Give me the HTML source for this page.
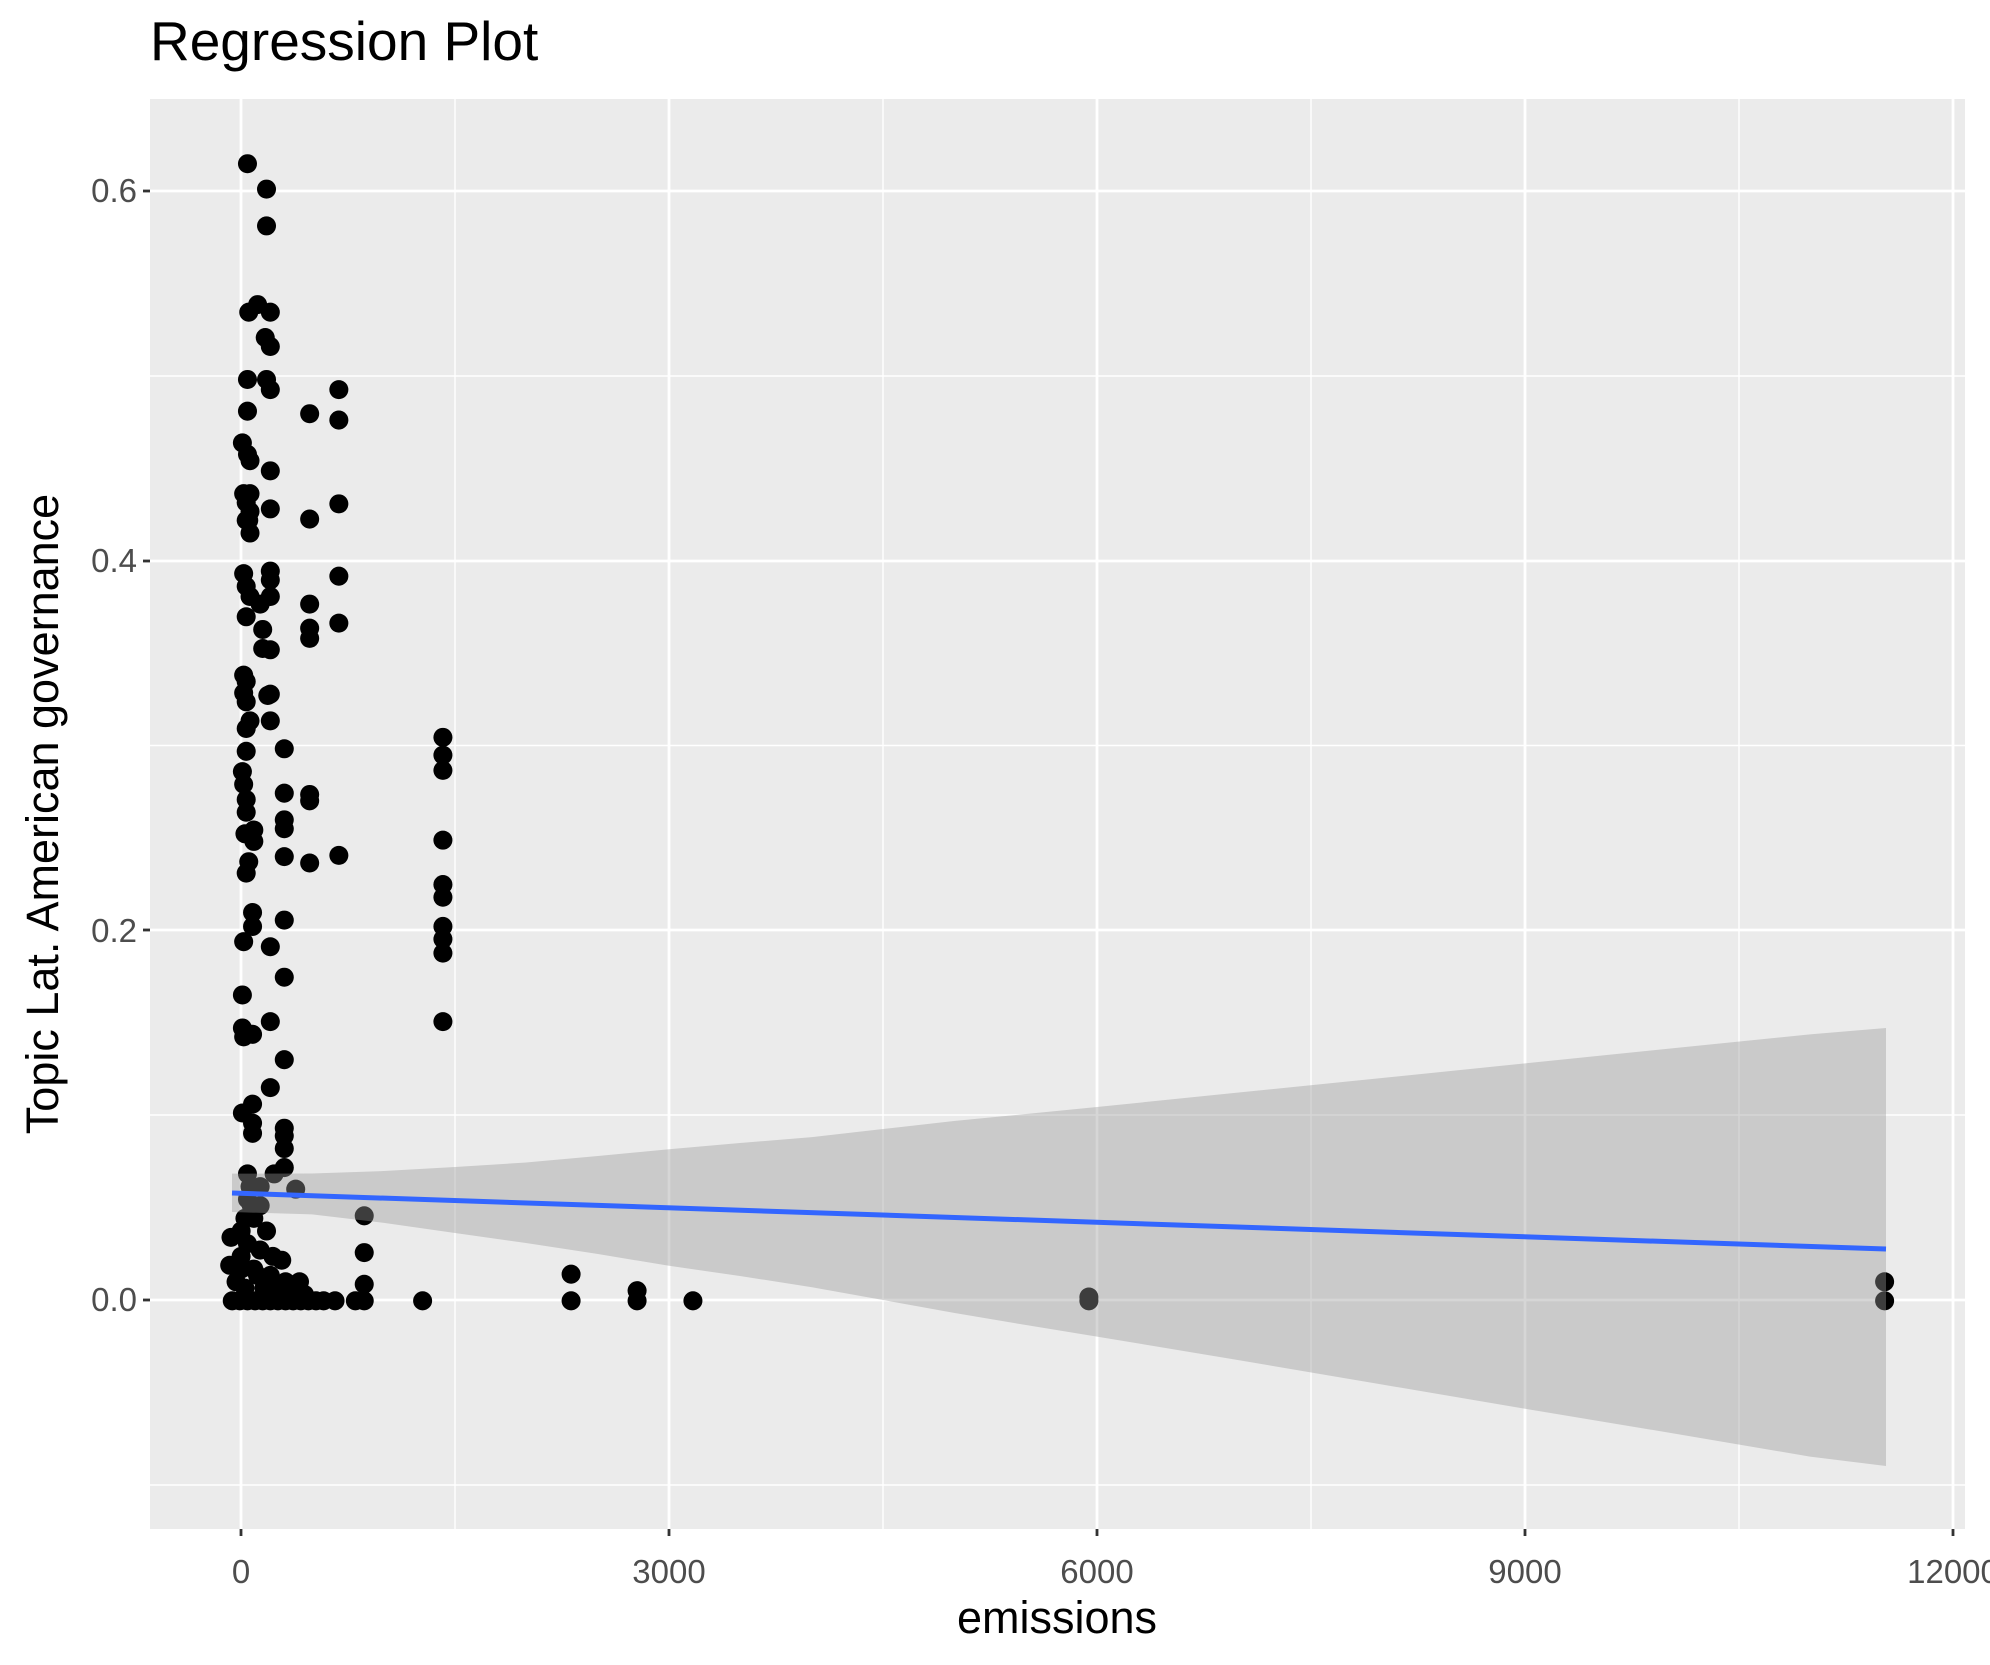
<!DOCTYPE html>
<html><head><meta charset="utf-8"><style>
html,body{margin:0;padding:0;background:#fff}
svg{display:block}
text{font-family:"Liberation Sans",sans-serif}
</style></head><body>
<svg width="1990" height="1665" viewBox="0 0 1990 1665" xmlns="http://www.w3.org/2000/svg">
<rect x="150" y="99" width="1815" height="1430" fill="#EBEBEB"/>
<g stroke="#fff" stroke-width="1.4">
<line x1="455" y1="99" x2="455" y2="1529"/><line x1="883" y1="99" x2="883" y2="1529"/><line x1="1311" y1="99" x2="1311" y2="1529"/><line x1="1739" y1="99" x2="1739" y2="1529"/>
<line x1="150" y1="1485" x2="1965" y2="1485"/><line x1="150" y1="1115" x2="1965" y2="1115"/><line x1="150" y1="745.5" x2="1965" y2="745.5"/><line x1="150" y1="376" x2="1965" y2="376"/>
</g>
<g stroke="#fff" stroke-width="2.8">
<line x1="241" y1="99" x2="241" y2="1529"/><line x1="669" y1="99" x2="669" y2="1529"/><line x1="1097" y1="99" x2="1097" y2="1529"/><line x1="1525" y1="99" x2="1525" y2="1529"/><line x1="1953" y1="99" x2="1953" y2="1529"/>
<line x1="150" y1="1300" x2="1965" y2="1300"/><line x1="150" y1="930" x2="1965" y2="930"/><line x1="150" y1="561" x2="1965" y2="561"/><line x1="150" y1="191" x2="1965" y2="191"/>
</g>
<g transform="scale(1.2691)" fill="#000">
<g id="pts">
<circle cx="195" cy="129" r="7.5"/><circle cx="210" cy="149" r="7.5"/><circle cx="210" cy="178" r="7.5"/><circle cx="203" cy="240" r="7.5"/><circle cx="213" cy="246" r="7.5"/><circle cx="196" cy="246" r="7.5"/><circle cx="209" cy="266" r="7.5"/><circle cx="213" cy="273" r="7.5"/><circle cx="195" cy="299" r="7.5"/><circle cx="210" cy="299" r="7.5"/><circle cx="213" cy="307" r="7.5"/><circle cx="267" cy="307" r="7.5"/><circle cx="195" cy="324" r="7.5"/><circle cx="244" cy="326" r="7.5"/><circle cx="267" cy="331" r="7.5"/><circle cx="191" cy="349" r="7.5"/><circle cx="195" cy="358" r="7.5"/><circle cx="197" cy="363" r="7.5"/><circle cx="213" cy="371" r="7.5"/><circle cx="267" cy="397" r="7.5"/><circle cx="192" cy="389" r="7.5"/><circle cx="197" cy="389" r="7.5"/><circle cx="194" cy="396" r="7.5"/><circle cx="197" cy="403" r="7.5"/><circle cx="213" cy="401" r="7.5"/><circle cx="196" cy="410" r="7.5"/><circle cx="194" cy="410" r="7.5"/><circle cx="244" cy="409" r="7.5"/><circle cx="197" cy="420" r="7.5"/><circle cx="192" cy="452" r="7.5"/><circle cx="213" cy="450" r="7.5"/><circle cx="213" cy="457" r="7.5"/><circle cx="267" cy="454" r="7.5"/><circle cx="194" cy="462" r="7.5"/><circle cx="197" cy="470" r="7.5"/><circle cx="213" cy="470" r="7.5"/><circle cx="205" cy="476" r="7.5"/><circle cx="244" cy="476" r="7.5"/><circle cx="194" cy="486" r="7.5"/><circle cx="207" cy="496" r="7.5"/><circle cx="244" cy="495" r="7.5"/><circle cx="244" cy="503" r="7.5"/><circle cx="267" cy="491" r="7.5"/><circle cx="207" cy="511" r="7.5"/><circle cx="213" cy="512" r="7.5"/><circle cx="192" cy="532" r="7.5"/><circle cx="194" cy="537" r="7.5"/><circle cx="192" cy="546" r="7.5"/><circle cx="194" cy="553" r="7.5"/><circle cx="211" cy="548" r="7.5"/><circle cx="213" cy="547" r="7.5"/><circle cx="213" cy="568" r="7.5"/><circle cx="197" cy="568" r="7.5"/><circle cx="194" cy="574" r="7.5"/><circle cx="194" cy="592" r="7.5"/><circle cx="224" cy="590" r="7.5"/><circle cx="349" cy="581" r="7.5"/><circle cx="349" cy="595" r="7.5"/><circle cx="349" cy="607" r="7.5"/><circle cx="191" cy="608" r="7.5"/><circle cx="192" cy="618" r="7.5"/><circle cx="194" cy="630" r="7.5"/><circle cx="244" cy="626" r="7.5"/><circle cx="244" cy="631" r="7.5"/><circle cx="224" cy="625" r="7.5"/><circle cx="194" cy="640" r="7.5"/><circle cx="224" cy="646" r="7.5"/><circle cx="224" cy="653" r="7.5"/><circle cx="200" cy="654" r="7.5"/><circle cx="193" cy="657" r="7.5"/><circle cx="200" cy="663" r="7.5"/><circle cx="349" cy="662" r="7.5"/><circle cx="224" cy="675" r="7.5"/><circle cx="267" cy="674" r="7.5"/><circle cx="196" cy="679" r="7.5"/><circle cx="244" cy="680" r="7.5"/><circle cx="194" cy="688" r="7.5"/><circle cx="199" cy="719" r="7.5"/><circle cx="199" cy="730" r="7.5"/><circle cx="224" cy="725" r="7.5"/><circle cx="349" cy="697" r="7.5"/><circle cx="349" cy="707" r="7.5"/><circle cx="349" cy="730" r="7.5"/><circle cx="349" cy="740" r="7.5"/><circle cx="349" cy="751" r="7.5"/><circle cx="192" cy="742" r="7.5"/><circle cx="213" cy="746" r="7.5"/><circle cx="224" cy="770" r="7.5"/><circle cx="191" cy="784" r="7.5"/><circle cx="213" cy="805" r="7.5"/><circle cx="349" cy="805" r="7.5"/><circle cx="191" cy="810" r="7.5"/><circle cx="192" cy="817" r="7.5"/><circle cx="199" cy="815" r="7.5"/><circle cx="224" cy="835" r="7.5"/><circle cx="213" cy="857" r="7.5"/><circle cx="191" cy="877" r="7.5"/><circle cx="199" cy="870" r="7.5"/><circle cx="199" cy="885" r="7.5"/><circle cx="199" cy="893" r="7.5"/><circle cx="224" cy="889" r="7.5"/><circle cx="224" cy="895" r="7.5"/><circle cx="224" cy="905" r="7.5"/><circle cx="224" cy="920" r="7.5"/><circle cx="216" cy="925" r="7.5"/><circle cx="233" cy="937" r="7.5"/><circle cx="195" cy="925" r="7.5"/>
<circle cx="287" cy="958" r="7.5"/><circle cx="287" cy="987" r="7.5"/><circle cx="287" cy="1012" r="7.5"/><circle cx="287" cy="1025" r="7.5"/><circle cx="280" cy="1025" r="7.5"/><circle cx="264" cy="1025" r="7.5"/><circle cx="333" cy="1025" r="7.5"/><circle cx="450" cy="1004" r="7.5"/><circle cx="450" cy="1025" r="7.5"/><circle cx="502" cy="1017" r="7.5"/><circle cx="502" cy="1025" r="7.5"/><circle cx="546" cy="1025" r="7.5"/><circle cx="858" cy="1022" r="7.5"/><circle cx="858" cy="1025" r="7.5"/><circle cx="1485" cy="1010" r="7.5"/><circle cx="1485" cy="1025" r="7.5"/>
<circle cx="183" cy="1025" r="7.5"/><circle cx="189" cy="1025" r="7.5"/><circle cx="195" cy="1025" r="7.5"/><circle cx="201" cy="1025" r="7.5"/><circle cx="207" cy="1025" r="7.5"/><circle cx="213" cy="1025" r="7.5"/><circle cx="219" cy="1025" r="7.5"/><circle cx="225" cy="1025" r="7.5"/><circle cx="231" cy="1025" r="7.5"/><circle cx="237" cy="1025" r="7.5"/><circle cx="243" cy="1025" r="7.5"/><circle cx="249" cy="1025" r="7.5"/><circle cx="255" cy="1025" r="7.5"/>
<circle cx="182" cy="975" r="7.5"/><circle cx="181" cy="997" r="7.5"/><circle cx="186" cy="1010" r="7.5"/><circle cx="190" cy="990" r="7.5"/><circle cx="195" cy="980" r="7.5"/><circle cx="200" cy="960" r="7.5"/><circle cx="205" cy="950" r="7.5"/><circle cx="195" cy="945" r="7.5"/><circle cx="200" cy="1000" r="7.5"/><circle cx="208" cy="1015" r="7.5"/><circle cx="215" cy="990" r="7.5"/><circle cx="222" cy="993" r="7.5"/><circle cx="210" cy="970" r="7.5"/><circle cx="193" cy="1015" r="7.5"/><circle cx="203" cy="1005" r="7.5"/><circle cx="213" cy="1005" r="7.5"/><circle cx="225" cy="1010" r="7.5"/><circle cx="236" cy="1010" r="7.5"/><circle cx="229" cy="1018" r="7.5"/><circle cx="193" cy="960" r="7.5"/><circle cx="197" cy="935" r="7.5"/><circle cx="205" cy="935" r="7.5"/><circle cx="198" cy="950" r="7.5"/><circle cx="190" cy="1000" r="7.5"/><circle cx="240" cy="1020" r="7.5"/><circle cx="205" cy="985" r="7.5"/><circle cx="190" cy="970" r="7.5"/><circle cx="218" cy="1015" r="7.5"/>
</g></g>
<polygon fill="#999999" fill-opacity="0.4" points="232,1173.6 312,1173.5 384,1171 455,1167 526,1162.5 598,1156 669,1149.3 740,1143 812,1137.1 883,1129 954,1121 1026,1114 1097,1107 1240,1092.4 1382,1078 1525,1063.4 1668,1048.8 1810,1034.4 1886,1028 1886,1466 1810,1456.6 1668,1432.5 1525,1408.7 1382,1384.5 1240,1360.4 1097,1336.6 1026,1325 954,1312.9 883,1300 812,1287.2 740,1276 669,1265.8 598,1254 526,1243 455,1233 384,1222.9 312,1214.4 232,1212"/>
<line x1="232" y1="1193" x2="1886" y2="1249" stroke="#3366FF" stroke-width="5"/>
<g stroke="#333" stroke-width="2.8">
<line x1="143" y1="1300" x2="150" y2="1300"/><line x1="143" y1="930" x2="150" y2="930"/><line x1="143" y1="561" x2="150" y2="561"/><line x1="143" y1="191" x2="150" y2="191"/>
<line x1="241" y1="1529" x2="241" y2="1536"/><line x1="669" y1="1529" x2="669" y2="1536"/><line x1="1097" y1="1529" x2="1097" y2="1536"/><line x1="1525" y1="1529" x2="1525" y2="1536"/><line x1="1953" y1="1529" x2="1953" y2="1536"/>
</g>
<g fill="#4D4D4D" font-size="33">
<g text-anchor="end"><text x="137" y="1311">0.0</text><text x="137" y="942">0.2</text><text x="137" y="572">0.4</text><text x="137" y="202">0.6</text></g>
<g text-anchor="middle"><text x="241" y="1583">0</text><text x="669" y="1583">3000</text><text x="1097" y="1583">6000</text><text x="1525" y="1583">9000</text><text x="1953" y="1583">12000</text></g>
</g>
<text x="1057" y="1633" font-size="45" text-anchor="middle" fill="#000">emissions</text>
<text transform="translate(58,814) rotate(-90)" font-size="45" text-anchor="middle" fill="#000">Topic Lat. American governance</text>
<text x="150" y="60" font-size="55" fill="#000">Regression Plot</text>
</svg>
</body></html>
